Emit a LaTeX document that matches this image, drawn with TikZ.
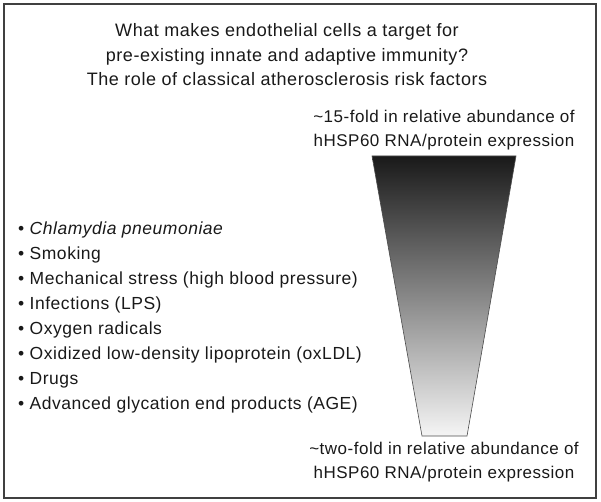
\documentclass[tikz,border=0pt]{standalone}
\usepackage{fontspec}
\setmainfont{Liberation Sans}[LetterSpace=3]
\usetikzlibrary{positioning}
\begin{document}
\begin{tikzpicture}[x=1pt,y=-1pt]

	\tikzset{FrameStyle/.style = {draw=black!75, line width=2pt}}
	\tikzset{TextStyle/.style  = {inner sep=0pt, align=center, text=black!90,
			font=\fontsize{17pt}{24pt}\selectfont}}
	\tikzset{TitleStyle/.style = {TextStyle, font=\fontsize{18pt}{24.5pt}\selectfont}}
	\tikzset{ListStyle/.style  = {TextStyle, align=left,
			font=\fontsize{17.5pt}{25pt}\selectfont}}
	\tikzset{FunnelStyle/.style = {top color=black!90, bottom color=black!4,
			draw=black!70, line width=0.6pt}}

	\useasboundingbox (0,0) rectangle (601,502);
	\draw[FrameStyle] (4,4) rectangle (596,498);

	\node[TitleStyle](title) at (287,55) {What makes endothelial cells a target for\\
		pre-existing innate and adaptive immunity?\\
		The role of classical atherosclerosis risk factors};

	% funnel
	\coordinate (tl) at (372,156);
	\coordinate (tr) at (516,156);
	\coordinate (br) at (467,436);
	\coordinate (bl) at (422,436);
	\shade[FunnelStyle] (tl) -- (tr) -- (br) -- (bl) -- cycle;

	\node[TextStyle](high) at (444,130) {\textasciitilde15-fold in relative abundance of\\
		hHSP60 RNA/protein expression};
	\node[TextStyle](low) at (444,462) {\textasciitilde two-fold in relative abundance of\\
		hHSP60 RNA/protein expression};

	\node[ListStyle,anchor=west](risks) at (18,317) {%
		\textbullet\ \textit{Chlamydia pneumoniae}\\
		\textbullet\ Smoking\\
		\textbullet\ Mechanical stress (high blood pressure)\\
		\textbullet\ Infections (LPS)\\
		\textbullet\ Oxygen radicals\\
		\textbullet\ Oxidized low-density lipoprotein (oxLDL)\\
		\textbullet\ Drugs\\
		\textbullet\ Advanced glycation end products (AGE)};

\end{tikzpicture}
\end{document}
